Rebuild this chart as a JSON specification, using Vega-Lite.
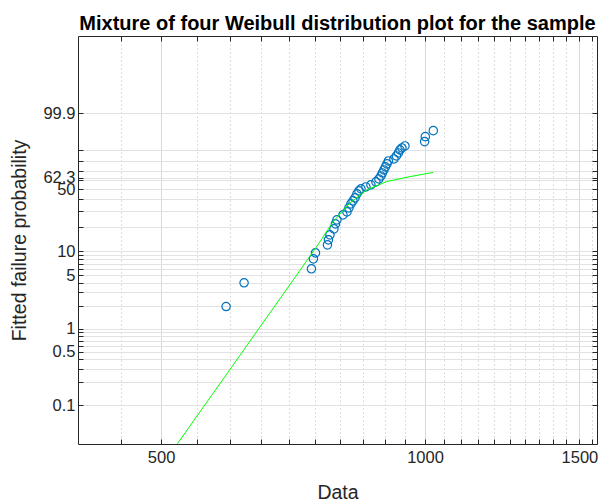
{
  "$schema": "https://vega.github.io/schema/vega-lite/v6.json",
  "width": 519,
  "height": 408,
  "autosize": "none",
  "padding": {"left": 78, "top": 36, "right": 2, "bottom": 58},
  "background": "white",
  "title": {
    "text": "Mixture of four Weibull distribution plot for the sample",
    "font": "Liberation Sans",
    "fontSize": 20,
    "fontWeight": "bold",
    "color": "#000000",
    "anchor": "middle",
    "frame": "group",
    "baseline": "alphabetic",
    "offset": -14
  },
  "config": {"view": {"stroke": null}, "font": "Liberation Sans"},
  "datasets": {
    "sample": [
      {"data": 593.1, "lnlnp": -3.923},
      {"data": 621.8, "lnlnp": -3.205},
      {"data": 742.1, "lnlnp": -2.781},
      {"data": 746.0, "lnlnp": -2.479},
      {"data": 750.0, "lnlnp": -2.297},
      {"data": 774.0, "lnlnp": -2.055},
      {"data": 776.0, "lnlnp": -1.903},
      {"data": 779.1, "lnlnp": -1.752},
      {"data": 787.3, "lnlnp": -1.570},
      {"data": 790.4, "lnlnp": -1.419},
      {"data": 793.5, "lnlnp": -1.298},
      {"data": 806.2, "lnlnp": -1.146},
      {"data": 814.7, "lnlnp": -1.056},
      {"data": 818.9, "lnlnp": -0.935},
      {"data": 823.2, "lnlnp": -0.813},
      {"data": 827.6, "lnlnp": -0.723},
      {"data": 832.0, "lnlnp": -0.632},
      {"data": 836.3, "lnlnp": -0.511},
      {"data": 840.7, "lnlnp": -0.420},
      {"data": 845.2, "lnlnp": -0.359},
      {"data": 856.3, "lnlnp": -0.299},
      {"data": 867.6, "lnlnp": -0.238},
      {"data": 879.1, "lnlnp": -0.147},
      {"data": 886.0, "lnlnp": -0.057},
      {"data": 890.7, "lnlnp": 0.034},
      {"data": 894.2, "lnlnp": 0.125},
      {"data": 897.8, "lnlnp": 0.216},
      {"data": 901.3, "lnlnp": 0.307},
      {"data": 904.9, "lnlnp": 0.398},
      {"data": 908.4, "lnlnp": 0.488},
      {"data": 921.7, "lnlnp": 0.549},
      {"data": 927.7, "lnlnp": 0.640},
      {"data": 932.6, "lnlnp": 0.731},
      {"data": 936.3, "lnlnp": 0.822},
      {"data": 941.2, "lnlnp": 0.882},
      {"data": 948.7, "lnlnp": 0.943},
      {"data": 999.0, "lnlnp": 1.073},
      {"data": 1000.8, "lnlnp": 1.224},
      {"data": 1022.0, "lnlnp": 1.406}
    ],
    "fit": [
      {"data": 521.9, "lnlnp": -8.08},
      {"data": 615.3, "lnlnp": -5.397},
      {"data": 720.1, "lnlnp": -2.830},
      {"data": 758.8, "lnlnp": -1.964},
      {"data": 785.3, "lnlnp": -1.358},
      {"data": 821.1, "lnlnp": -0.783},
      {"data": 857.9, "lnlnp": -0.390},
      {"data": 904.1, "lnlnp": -0.138},
      {"data": 961.2, "lnlnp": 0.013},
      {"data": 1022.0, "lnlnp": 0.140}
    ]
  },
  "layer": [
    {
      "data": {"name": "sample"},
      "mark": {"type": "point", "shape": "circle", "filled": false, "color": "#0072BD", "strokeWidth": 1.2, "size": 70, "opacity": 1},
      "encoding": {
        "x": {
          "field": "data",
          "type": "quantitative",
          "scale": {"type": "log", "domain": [402, 1571], "nice": false},
          "axis": {
            "orient": "bottom",
            "values": [450, 500, 550, 600, 650, 700, 750, 800, 850, 900, 950, 1000, 1050, 1100, 1150, 1200, 1250, 1300, 1350, 1400, 1450, 1500, 1550],
            "labelExpr": "datum.value % 500 === 0 ? '' + datum.value : ''",
            "labelOverlap": false,
            "labelFlush": false,
            "labelFont": "Liberation Sans",
            "labelFontSize": 16.5,
            "labelColor": "#262626",
            "labelPadding": 10,
            "tickSize": -5,
            "tickColor": "#262626",
            "domainColor": "#262626",
            "grid": true,
            "gridColor": {"condition": {"test": "datum.value % 500 === 0", "value": "#d9d9d9"}, "value": "#bdbdbd"},
            "gridDash": {"condition": {"test": "datum.value % 500 === 0", "value": []}, "value": [1, 3]},
            "title": "Data",
            "titleFont": "Liberation Sans",
            "titleFontSize": 19.5,
            "titleFontWeight": "normal",
            "titleColor": "#262626",
            "titleX": 259.5,
            "titleY": 54,
            "titleAlign": "center",
            "titleBaseline": "alphabetic"
          }
        },
        "y": {
          "field": "lnlnp",
          "type": "quantitative",
          "scale": {"domain": [-8.088, 4.273], "nice": false, "zero": false},
          "axis": {
            "orient": "left",
            "values": [-6.9073, -6.2136, -5.8076, -5.5195, -5.2958, -5.1129, -4.9583, -4.8243, -4.706, -4.6002, -3.9019, -3.4913, -3.1985, -2.9702, -2.7827, -2.6232, -2.4843, -2.3612, -2.2504, -1.4999, -1.0309, -0.6717, -0.3665, -0.0874, -0.0248, 0.1856, 0.4759, 0.834, 1.9326],
            "labelExpr": "datum.value === 1.9326 ? '99.9' : datum.value === -0.0248 ? '62.3' : datum.value === -0.3665 ? '50' : datum.value === -2.2504 ? '10' : datum.value === -2.9702 ? '5' : datum.value === -4.6002 ? '1' : datum.value === -5.2958 ? '0.5' : datum.value === -6.9073 ? '0.1' : ''",
            "labelOverlap": false,
            "labelFlush": false,
            "labelFont": "Liberation Sans",
            "labelFontSize": 16.5,
            "labelColor": "#262626",
            "labelPadding": 8,
            "tickSize": -5,
            "tickColor": "#262626",
            "domainColor": "#262626",
            "grid": true,
            "gridColor": "#e2e2e2",
            "title": "Fitted failure probability",
            "titleFont": "Liberation Sans",
            "titleFontSize": 19.5,
            "titleFontWeight": "normal",
            "titleColor": "#262626",
            "titleX": -53,
            "titleY": 204,
            "titleAngle": -90,
            "titleAlign": "center",
            "titleBaseline": "alphabetic"
          }
        }
      }
    },
    {
      "data": {"name": "fit"},
      "mark": {"type": "line", "color": "#00FF00", "strokeWidth": 1, "clip": true},
      "encoding": {
        "x": {
          "field": "data",
          "type": "quantitative",
          "scale": {"type": "log", "domain": [402, 1571], "nice": false},
          "axis": {
            "orient": "top",
            "values": [450, 500, 550, 600, 650, 700, 750, 800, 850, 900, 950, 1000, 1050, 1100, 1150, 1200, 1250, 1300, 1350, 1400, 1450, 1500, 1550],
            "labels": false,
            "tickSize": -5,
            "tickColor": "#262626",
            "domainColor": "#262626",
            "grid": false,
            "title": null
          }
        },
        "y": {
          "field": "lnlnp",
          "type": "quantitative",
          "scale": {"domain": [-8.088, 4.273], "nice": false, "zero": false},
          "axis": {
            "orient": "right",
            "values": [-6.9073, -6.2136, -5.8076, -5.5195, -5.2958, -5.1129, -4.9583, -4.8243, -4.706, -4.6002, -3.9019, -3.4913, -3.1985, -2.9702, -2.7827, -2.6232, -2.4843, -2.3612, -2.2504, -1.4999, -1.0309, -0.6717, -0.3665, -0.0874, -0.0248, 0.1856, 0.4759, 0.834, 1.9326],
            "labels": false,
            "tickSize": -5,
            "tickColor": "#262626",
            "domainColor": "#262626",
            "grid": false,
            "title": null
          }
        }
      }
    }
  ],
  "resolve": {"axis": {"x": "independent", "y": "independent"}}
}
